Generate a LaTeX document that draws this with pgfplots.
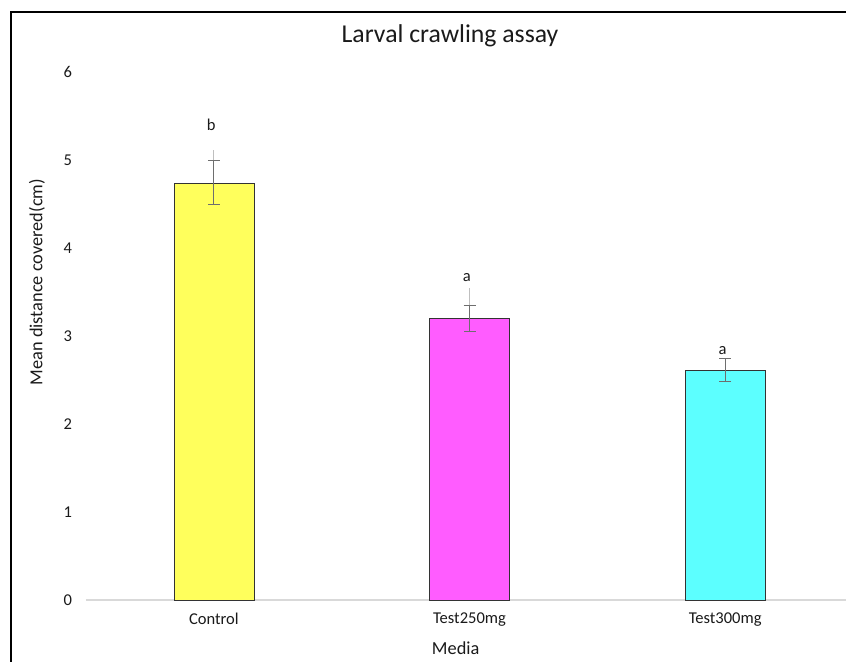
\documentclass[border=0pt]{standalone}
\usepackage{pgfplots}
\pgfplotsset{compat=1.18}
\usepackage{fontspec}
\setmainfont{Carlito}
\definecolor{cyel}{HTML}{FFFF5C}
\definecolor{cmag}{HTML}{FF5CFF}
\definecolor{ccya}{HTML}{5CFFFF}
\definecolor{txt}{HTML}{1A1A1A}
\definecolor{errc}{HTML}{6E6E6E}
\begin{document}
\begin{tikzpicture}
\useasboundingbox (0,0) rectangle (634.5pt,-495.75pt);
\clip (0,0) rectangle (634.5pt,-495.75pt);
\begin{axis}[
  at={(64.5pt,-450pt)}, anchor=south west,
  scale only axis, width=575.25pt, height=396pt,
  xmin=-0.5, xmax=2.5, ymin=0, ymax=6,
  ytick={0,1,2,3,4,5,6}, xtick={0,1,2},
  xticklabels={Control,Test250mg,Test300mg},
  major tick length=0pt,
  axis x line*=bottom, axis y line*=left,
  x axis line style={draw=black!15, line width=0.8pt, -},
  y axis line style={draw=none},
  /pgf/number format/assume math mode=true,
  ticklabel style={font=\fontsize{12.4}{14}\selectfont, text=txt},
  yticklabel style={xshift=-7pt},
  xticklabel style={yshift=-6pt},
  xlabel={Media},
  xlabel style={at={(axis description cs:0.482,0)}, anchor=center, yshift=-36pt, font=\fontsize{13.75}{16}\selectfont, text=txt},
  ylabel={Mean distance covered(cm)},
  ylabel style={at={(axis description cs:-0.0639,0.602)}, anchor=center, font=\fontsize{13.75}{16}\selectfont, text=txt},
  title={Larval crawling assay},
  title style={at={(axis description cs:0.4746,1)}, anchor=center, yshift=21pt, font=\fontsize{19.3}{22}\selectfont, text=txt},
  clip=false,
]
% light upper whiskers
\addplot[draw=none, mark=none, forget plot,
  error bars/.cd, y dir=plus, y explicit, error mark=none,
  error bar style={draw=black!25, line width=0.9pt}]
  coordinates {(0,4.74) +- (0,0.37) (1,3.20) +- (0,0.35)};
\addplot[ybar, bar width=60pt, fill=cyel, draw=black!80, line width=0.5pt, mark=none,
  error bars/.cd, y dir=both, y explicit, error mark=-,
  error mark options={rotate=90, mark size=4.5pt, line width=0.7pt, errc},
  error bar style={errc, line width=0.7pt}]
  coordinates {(0,4.74) +- (0,0.25)};
\addplot[ybar, bar width=60pt, fill=cmag, draw=black!80, line width=0.5pt, mark=none,
  error bars/.cd, y dir=both, y explicit, error mark=-,
  error mark options={rotate=90, mark size=4.5pt, line width=0.7pt, errc},
  error bar style={errc, line width=0.7pt}]
  coordinates {(1,3.20) +- (0,0.15)};
\addplot[ybar, bar width=60pt, fill=ccya, draw=black!80, line width=0.5pt, mark=none,
  error bars/.cd, y dir=both, y explicit, error mark=-,
  error mark options={rotate=90, mark size=4.5pt, line width=0.7pt, errc},
  error bar style={errc, line width=0.7pt}]
  coordinates {(2,2.61) +- (0,0.13)};
\node[font=\fontsize{12.4}{14}\selectfont, text=txt] at (axis cs:-0.01,5.40) {b};
\node[font=\fontsize{12.4}{14}\selectfont, text=txt] at (axis cs:0.99,3.67) {a};
\node[font=\fontsize{12.4}{14}\selectfont, text=txt] at (axis cs:1.99,2.83) {a};
\end{axis}
\draw[line width=1.6pt, black] (8.25pt,-500pt) -- (8.25pt,-9pt) -- (640pt,-9pt);
\end{tikzpicture}
\end{document}
